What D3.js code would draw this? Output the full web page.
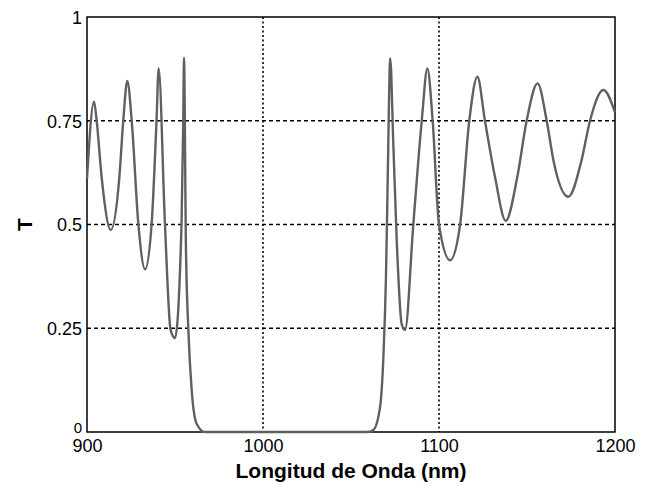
<!DOCTYPE html>
<html>
<head>
<meta charset="utf-8">
<script src="https://cdn.jsdelivr.net/npm/d3@7"></script>
<style>
  body { margin: 0; background: #fff; }
  svg { display: block; font-family: "Liberation Sans", Arial, sans-serif; }
</style>
</head>
<body>
<svg id="chart"></svg>
<script>
// Wavelength (nm) and transmittance
const wavelength = [
  900, 904, 905.5, 908.3, 913.5, 918.4, 920.6, 922.9, 925.4, 929.2, 933,
  936.7, 939.5, 940.7, 944.3, 947.5, 950, 953.7, 954.7, 955.1, 956.2, 957.6,
  959.5, 962.3, 967, 1059, 1062.7, 1066.5, 1068.4, 1069.9, 1070.9, 1072.3,
  1074, 1076, 1078.8, 1080.7, 1085.4, 1090.2, 1093.4, 1096.4, 1100, 1106.3,
  1112, 1117.2, 1121.8, 1126.1, 1131.8, 1137.9, 1144.5, 1149.8, 1156, 1161.2,
  1165, 1173.5, 1181, 1185.8, 1193.4, 1200
];
const transmittance = [
  0.61, 0.796, 0.75, 0.615, 0.487, 0.615, 0.75, 0.846, 0.75, 0.5, 0.392,
  0.5, 0.75, 0.876, 0.5, 0.246, 0.226, 0.5, 0.75, 0.902, 0.45, 0.245,
  0.10, 0.02, 0, 0, 0.005, 0.06, 0.18, 0.38, 0.62, 0.90,
  0.70, 0.46, 0.26, 0.246, 0.5, 0.75, 0.876, 0.75, 0.5, 0.414,
  0.5, 0.75, 0.856, 0.75, 0.615, 0.509, 0.615, 0.75, 0.84, 0.75,
  0.655, 0.567, 0.655, 0.75, 0.824, 0.77
];
const xTicks = [900, 1000, 1100, 1200];
const yTicks = [0, 0.25, 0.5, 0.75, 1];
const yTickLabels = ["0", "0.25", "0.5", "0.75", "1"];

const W = 652, H = 484;
const margin = { top: 17, right: 37, bottom: 52, left: 87 };
const width = W - margin.left - margin.right;
const height = H - margin.top - margin.bottom;

const svg = d3.select("#chart").attr("width", W).attr("height", H);
const g = svg.append("g")
  .attr("transform", `translate(${margin.left},${margin.top})`);

const x = d3.scaleLinear().domain([900, 1200]).range([0, width]);
const y = d3.scaleLinear().domain([0, 1]).range([height, 0]);

// grid
g.selectAll(".hgrid")
  .data(yTicks.filter(d => d > 0 && d < 1))
  .enter().append("line")
  .attr("x1", 0).attr("x2", width)
  .attr("y1", d => y(d)).attr("y2", d => y(d))
  .attr("stroke", "#000").attr("stroke-width", 1.6)
  .attr("stroke-dasharray", "4,3");

g.selectAll(".vgrid")
  .data(xTicks.filter(d => d > 900 && d < 1200))
  .enter().append("line")
  .attr("x1", d => x(d)).attr("x2", d => x(d))
  .attr("y1", 0).attr("y2", height)
  .attr("stroke", "#000").attr("stroke-width", 1.6)
  .attr("stroke-dasharray", "2,2.5");

// curve
const pts = wavelength.map((w, i) => [w, transmittance[i]]);
const line = d3.line()
  .x(d => x(d[0]))
  .y(d => y(d[1]))
  .curve(d3.curveMonotoneX);

// frame
g.append("rect")
  .attr("width", width).attr("height", height)
  .attr("fill", "none").attr("stroke", "#000").attr("stroke-width", 1.5);

g.append("path")
  .datum(pts)
  .attr("d", line)
  .attr("fill", "none")
  .attr("stroke", "#606060")
  .attr("stroke-width", 2.4);

// axes
const xAxis = g.append("g")
  .attr("transform", `translate(0,${height})`)
  .call(d3.axisBottom(x).tickValues(xTicks).tickSize(0).tickPadding(0).tickFormat(d3.format("d")));
xAxis.select(".domain").remove();
xAxis.selectAll("text")
  .attr("y", 20).attr("dy", 0)
  .style("font-size", "18px").attr("fill", "#000");

const yAxis = g.append("g")
  .call(d3.axisLeft(y).tickValues(yTicks).tickSize(0).tickPadding(5)
    .tickFormat((d, i) => yTickLabels[i]));
yAxis.select(".domain").remove();
yAxis.selectAll("text")
  .style("font-size", d => d === 0 ? "15px" : "18px").attr("fill", "#000")
  .attr("dy", d => d === 0 ? "0.05em" : "0.35em");

// axis labels
svg.append("text")
  .attr("x", margin.left + width / 2)
  .attr("y", 478)
  .attr("text-anchor", "middle")
  .style("font-size", "21px").style("font-weight", "bold")
  .text("Longitud de Onda (nm)");

svg.append("text")
  .attr("transform", `translate(32,${margin.top + height / 2}) rotate(-90)`)
  .attr("text-anchor", "middle")
  .style("font-size", "21px").style("font-weight", "bold")
  .text("T");
</script>
</body>
</html>
